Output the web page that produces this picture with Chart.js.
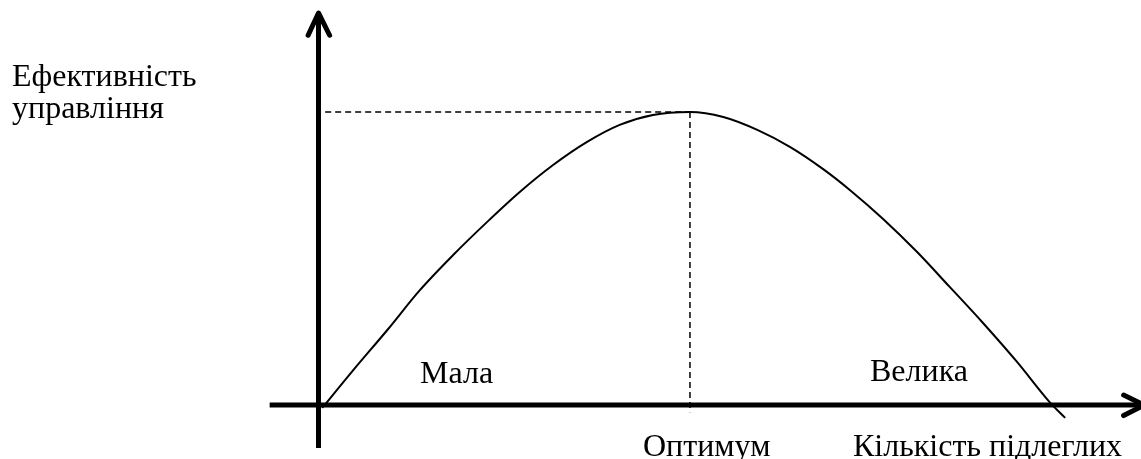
<!DOCTYPE html>
<html lang="uk">
<head>
<meta charset="utf-8">
<script src="https://cdn.jsdelivr.net/npm/chart.js@4/dist/chart.umd.min.js"></script>
<style>
    html, body { margin: 0; padding: 0; background: #fff; }
    #wrap { position: relative; width: 1141px; height: 459px; }
</style>
</head>
<body>
<div id="wrap"><canvas id="grafico"></canvas></div>
<script>
// ================= DADOS =================
// curva: eficiencia da gestao vs numero de subordinados (unidades arbitrarias)
const curvaX = [0.03, 0.45, 0.91, 1.35, 1.80, 2.26, 2.70, 3.15, 3.61, 4.05, 4.50, 5.00,
                5.45, 5.91, 6.35, 6.80, 7.16, 7.61, 8.07, 8.51, 8.96, 9.42, 9.86, 10.07];
const curvaY = [-0.10, 1.19, 2.56, 3.92, 5.12, 6.25, 7.27, 8.19, 8.98, 9.56, 9.90, 10.00,
                9.83, 9.39, 8.81, 8.05, 7.34, 6.35, 5.22, 4.03, 2.80, 1.47, 0.10, -0.44];

// optimo (pico) e linhas tracejadas
const otimoX = 5.0;
const otimoY = 10.0;
const tracoHorizX = [0.07, otimoX];
const tracoVertY = [otimoY, -0.25];

// eixos (com setas)
const eixoYx = [-0.02, -0.02];
const eixoYy = [-1.47, 13.38];
const setaYx = [-0.16, -0.02, 0.13];
const setaYy = [12.62, 13.38, 12.62];
const eixoXx = [-0.68, 11.14];
const eixoXy = [0, 0];
const setaXx = [10.86, 11.14, 10.86];
const setaXy = [0.34, 0, -0.36];

// textos
const tituloY = ["Ефективність", "управління"];
const rotulos = ["Мала", "Велика", "Оптимум", "Кількість підлеглих"];

// ================= UTILITARIOS =================
function pontos(xs, ys) {
    return xs.map((x, i) => ({ x: x, y: ys[i] }));
}

function linha(data, largura, extra) {
    return Object.assign({
        data: data,
        borderColor: "#000",
        borderWidth: largura,
        pointRadius: 0,
        showLine: true,
        fill: false,
        tension: 0,
        clip: false,
        borderCapStyle: "round",
        borderJoinStyle: "round"
    }, extra || {});
}

// ================= TEXTOS =================
const pluginTextos = {
    id: "textos",
    afterDraw(chart) {
        const ctx = chart.ctx;
        ctx.save();
        ctx.fillStyle = "#000";
        ctx.font = "32px 'Liberation Serif', 'Times New Roman', serif";
        ctx.textBaseline = "alphabetic";
        ctx.textAlign = "left";
        ctx.fillText(tituloY[0], 12, 86);
        ctx.fillText(tituloY[1], 12, 118);
        ctx.fillText(rotulos[0], 420, 383);
        ctx.fillText(rotulos[1], 870, 381);
        ctx.fillText(rotulos[2], 643, 456);
        ctx.fillText(rotulos[3], 853, 456);
        ctx.restore();
    }
};

const pluginFundo = {
    id: "fundo",
    beforeDraw(chart) {
        const ctx = chart.ctx;
        ctx.save();
        ctx.fillStyle = "#fff";
        ctx.fillRect(0, 0, chart.width, chart.height);
        ctx.restore();
    }
};

// ================= GRAFICO =================
const ctx = document.getElementById("grafico").getContext("2d");

new Chart(ctx, {
    type: "scatter",
    data: {
        datasets: [
            linha(pontos(eixoYx, eixoYy), 5, { borderCapStyle: "butt" }),
            linha(pontos(setaYx, setaYy), 5),
            linha(pontos(eixoXx, eixoXy), 5, { borderCapStyle: "butt" }),
            linha(pontos(setaXx, setaXy), 5),
            linha(pontos(curvaX, curvaY), 2, { tension: 0.4, cubicInterpolationMode: "monotone", borderCapStyle: "butt" }),
            linha(pontos(tracoHorizX, [otimoY, otimoY]), 1.5, { borderDash: [6, 4], borderCapStyle: "butt" }),
            linha(pontos([otimoX, otimoX], tracoVertY), 1.5, { borderDash: [6, 4], borderCapStyle: "butt" })
        ]
    },
    options: {
        responsive: true,
        maintainAspectRatio: false,
        animation: false,
        devicePixelRatio: 1,
        events: [],
        layout: { padding: 0, autoPadding: false },
        plugins: {
            legend: { display: false },
            tooltip: { enabled: false }
        },
        scales: {
            x: { type: "linear", min: -4.324, max: 11.095, display: false },
            y: { type: "linear", min: -1.843, max: 13.823, display: false }
        }
    },
    plugins: [pluginFundo, pluginTextos]
});
</script>
</body>
</html>
